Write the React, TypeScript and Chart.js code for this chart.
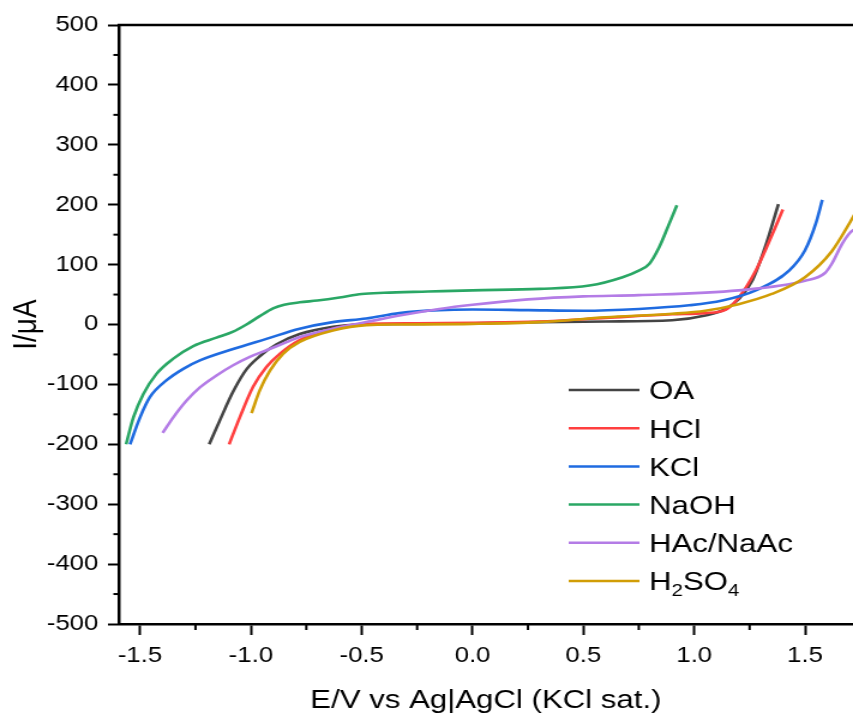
import React, { useEffect, useRef } from "react";
import { Chart, registerables } from "chart.js";

Chart.register(...registerables);

// ---------- data ----------
const seriesLabels = ["OA", "HCl", "KCl", "NaOH", "HAc/NaAc", "H2SO4"];
const seriesColors = ["#444444", "#ff3f3f", "#1f6be0", "#2aa765", "#b47ce6", "#d19d06"];

const oaX = [-1.188, -1.14, -1.08, -1.02, -0.96, -0.884, -0.78, -0.63, -0.5, -0.25, 0, 0.3, 0.6, 0.9, 1.05, 1.143, 1.203, 1.263, 1.32, 1.38];
const oaY = [-200, -160, -112, -75, -53, -33, -16, -4, 0, 1, 2, 4, 5, 7, 15, 26, 43, 74, 129, 201];

const hclX = [-1.098, -1.05, -0.99, -0.93, -0.87, -0.78, -0.63, -0.48, -0.25, 0, 0.3, 0.6, 0.9, 1.05, 1.143, 1.203, 1.278, 1.353, 1.4];
const hclY = [-200, -155, -104, -71, -49, -26, -7, 1, 2, 3, 5, 11, 17, 19, 25, 46, 90, 151, 192];

const kclX = [-1.545, -1.5, -1.455, -1.38, -1.305, -1.23, -1.08, -0.93, -0.78, -0.63, -0.48, -0.33, -0.15, 0, 0.25, 0.5, 0.75, 0.977, 1.127, 1.278, 1.428, 1.5, 1.548, 1.578];
const kclY = [-200, -155, -121, -93, -74, -60, -41, -24, -7, 4, 10, 19, 24, 25, 24, 23, 26, 32, 40, 57, 90, 124, 168, 208];

const naohX = [-1.563, -1.53, -1.485, -1.425, -1.35, -1.26, -1.155, -1.08, -1.02, -0.96, -0.9, -0.85, -0.78, -0.7, -0.6, -0.5, -0.4, -0.2, 0, 0.302, 0.527, 0.677, 0.75, 0.797, 0.842, 0.887, 0.922];
const naohY = [-200, -155, -116, -82, -57, -36, -22, -12, 0, 14, 27, 33, 37, 40, 45, 51, 53, 55, 57, 59.5, 65, 79, 90, 101, 129, 168, 199];

const hacX = [-1.398, -1.35, -1.29, -1.23, -1.155, -1.08, -1.005, -0.93, -0.855, -0.78, -0.63, -0.48, -0.33, -0.15, 0, 0.25, 0.5, 0.75, 1.2, 1.5, 1.59, 1.62, 1.668, 1.705, 1.72];
const hacY = [-181, -155, -127, -105, -85, -68, -54, -43, -32, -21, -7, 4, 15, 26, 33, 42, 47, 49, 57, 73, 86, 101, 135, 154, 158];

const h2so4X = [-0.997, -0.96, -0.914, -0.855, -0.78, -0.63, -0.479, -0.33, 0, 0.3, 0.6, 0.9, 1.05, 1.2, 1.35, 1.5, 1.62, 1.705, 1.73];
const h2so4Y = [-148, -110, -77, -49, -29, -10, -1, 0, 1, 4, 12, 18, 23, 34, 51, 79, 122, 172, 188];

const seriesX = [oaX, hclX, kclX, naohX, hacX, h2so4X];
const seriesY = [oaY, hclY, kclY, naohY, hacY, h2so4Y];

const xMajorTicks = [-1.5, -1.0, -0.5, 0.0, 0.5, 1.0, 1.5];
const xMinorTicks = [-1.25, -0.75, -0.25, 0.25, 0.75, 1.25];
const yMajorTicks = [-500, -400, -300, -200, -100, 0, 100, 200, 300, 400, 500];
const yMinorTicks = [-450, -350, -250, -150, -50, 50, 150, 250, 350, 450];

const xTitle = "E/V vs Ag|AgCl (KCl sat.)";
const yTitle = "I/\u03bcA";

// ---------- layout ----------
const CANVAS_W = 711;
const CANVAS_H = 717;
const STRETCH = 853 / CANVAS_W;
const FONT = "'Liberation Sans', Arial, sans-serif";

const extrasPlugin = {
  id: "extras",
  afterDraw(chart: any) {
    const { ctx, chartArea, scales } = chart;
    const xs = scales.x;
    const ys = scales.y;
    ctx.save();
    ctx.strokeStyle = "#000";
    ctx.lineWidth = 2;
    xMinorTicks.forEach((v) => {
      const px = xs.getPixelForValue(v);
      ctx.beginPath();
      ctx.moveTo(px, chartArea.bottom);
      ctx.lineTo(px, chartArea.bottom + 6);
      ctx.stroke();
    });
    yMinorTicks.forEach((v) => {
      const py = ys.getPixelForValue(v);
      ctx.beginPath();
      ctx.moveTo(chartArea.left - 4.5, py);
      ctx.lineTo(chartArea.left, py);
      ctx.stroke();
    });
    ctx.lineWidth = 2.5;
    ctx.beginPath();
    ctx.moveTo(chartArea.left - 1, chartArea.top);
    ctx.lineTo(chartArea.right, chartArea.top);
    ctx.stroke();

    // legend
    const lx0 = 474;
    const lx1 = 533;
    const tx = 541;
    const y0 = 390;
    const dy = 38.2;
    chart.data.datasets.forEach((ds: any, i: number) => {
      const y = y0 + i * dy;
      ctx.strokeStyle = ds.borderColor;
      ctx.lineWidth = 2.5;
      ctx.beginPath();
      ctx.moveTo(lx0, y);
      ctx.lineTo(lx1, y);
      ctx.stroke();
      ctx.fillStyle = "#000";
      ctx.textBaseline = "alphabetic";
      ctx.textAlign = "left";
      const base = y + 9.3;
      let x = tx;
      const label: string = ds.label;
      for (const ch of label) {
        if (/[0-9]/.test(ch)) {
          ctx.font = `17px ${FONT}`;
          ctx.fillText(ch, x, base + 6);
          x += ctx.measureText(ch).width;
        } else {
          ctx.font = `26px ${FONT}`;
          ctx.fillText(ch, x, base);
          x += ctx.measureText(ch).width;
        }
      }
    });
    ctx.restore();
  },
};

export default function App() {
  const canvasRef = useRef<HTMLCanvasElement | null>(null);

  useEffect(() => {
    if (!canvasRef.current) return;
    Chart.defaults.font.family = FONT;
    Chart.defaults.color = "#000";

    const datasets = seriesLabels.map((label, i) => ({
      label,
      data: seriesX[i].map((x, j) => ({ x, y: seriesY[i][j] })),
      borderColor: seriesColors[i],
      backgroundColor: seriesColors[i],
      borderWidth: 2.6,
      pointRadius: 0,
      showLine: true,
      fill: false,
      cubicInterpolationMode: "monotone" as const,
      order: seriesLabels.length - i,
    }));

    const chart = new Chart(canvasRef.current, {
      type: "scatter",
      data: { datasets },
      options: {
        responsive: false,
        animation: false,
        events: [],
        layout: { padding: { top: 25, left: 0, right: 0, bottom: 0 } },
        plugins: {
          legend: { display: false },
          tooltip: { enabled: false },
        },
        scales: {
          x: {
            type: "linear",
            min: -1.596,
            max: 1.7165,
            afterBuildTicks: (scale: any) => {
              scale.ticks = xMajorTicks.map((v) => ({ value: v }));
            },
            afterFit: (scale: any) => {
              scale.height = CANVAS_H - 624;
            },
            ticks: {
              font: { size: 21.5, family: FONT },
              color: "#000",
              padding: 8,
              maxRotation: 0,
              autoSkip: false,
              callback: (v: any) => Number(v).toFixed(1),
            },
            grid: {
              display: true,
              drawOnChartArea: false,
              drawTicks: true,
              tickLength: 11,
              tickColor: "#000",
              tickWidth: 2,
            },
            border: { display: true, color: "#000", width: 2.5 },
            title: {
              display: true,
              text: xTitle,
              font: { size: 26, family: FONT },
              color: "#000",
              padding: { top: 0, bottom: 1 },
            },
          },
          y: {
            type: "linear",
            min: -500,
            max: 500,
            afterBuildTicks: (scale: any) => {
              scale.ticks = yMajorTicks.map((v) => ({ value: v }));
            },
            afterFit: (scale: any) => {
              scale.width = 99;
            },
            ticks: {
              font: { size: 21.5, family: FONT },
              color: "#000",
              padding: 8,
              autoSkip: false,
              callback: (v: any) => String(v),
            },
            grid: {
              display: true,
              drawOnChartArea: false,
              drawTicks: true,
              tickLength: 9,
              tickColor: "#000",
              tickWidth: 2,
            },
            border: { display: true, color: "#000", width: 2.5 },
            title: {
              display: true,
              text: yTitle,
              font: { size: 28, family: FONT },
              color: "#000",
              padding: { top: 5, bottom: 0 },
            },
          },
        },
      },
      plugins: [extrasPlugin],
    } as any);

    return () => chart.destroy();
  }, []);

  return (
    <div
      style={{
        position: "absolute",
        left: 0,
        top: 0,
        width: 853,
        height: 717,
        overflow: "hidden",
        background: "#fff",
      }}
    >
      <canvas
        ref={canvasRef}
        width={CANVAS_W}
        height={CANVAS_H}
        style={{
          display: "block",
          transform: `scaleX(${STRETCH})`,
          transformOrigin: "0 0",
        }}
      />
    </div>
  );
}
